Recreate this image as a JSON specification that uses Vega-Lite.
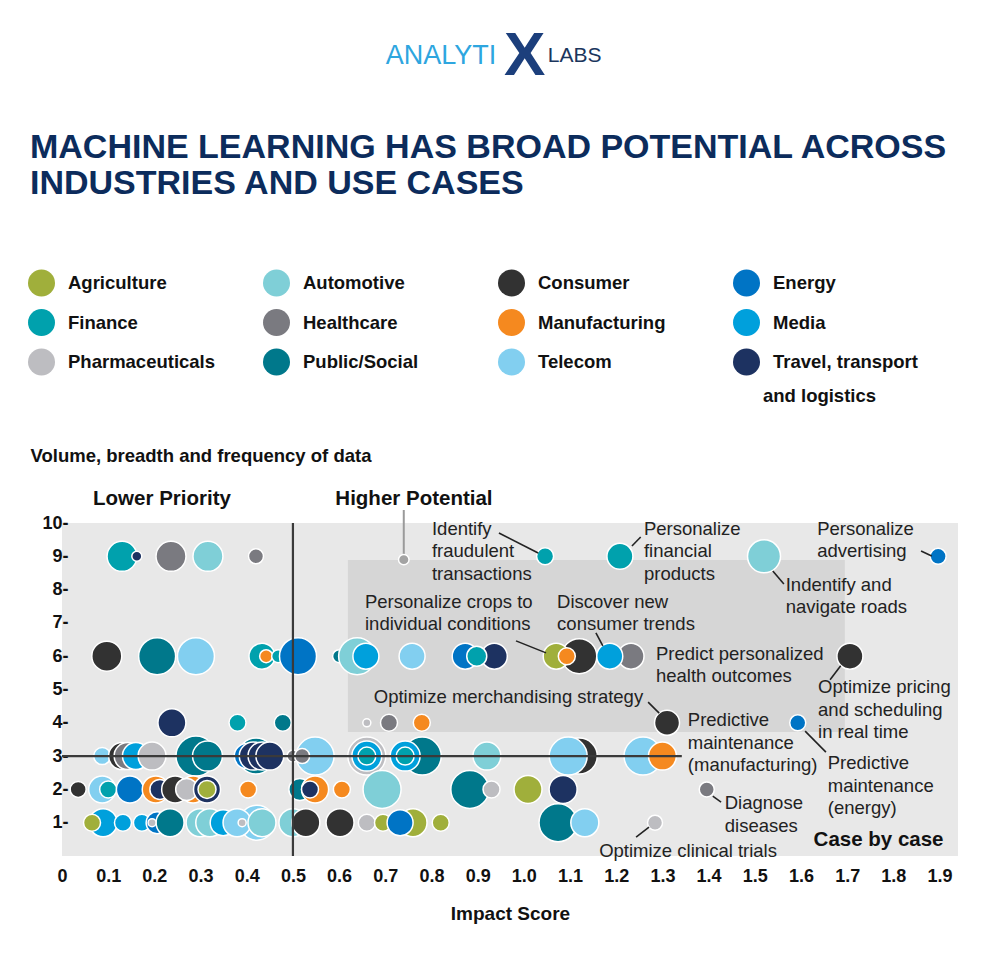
{
  "$schema": "https://vega.github.io/schema/vega-lite/v6.json",
  "width": 896,
  "height": 333,
  "autosize": {"type": "none"},
  "padding": {"left": 62, "top": 523, "right": 28, "bottom": 111},
  "background": "#ffffff",
  "config": {
    "view": {"stroke": null, "fill": "#e8e8e8"},
    "font": "Liberation Sans"
  },
  "datasets": {
    "bubbles": [
      {"c": "Finance", "x": 0.13, "y": 9, "size": 30},
      {"c": "Travel, transport and logistics", "x": 0.162, "y": 9, "size": 10},
      {"c": "Healthcare", "x": 0.236, "y": 9, "size": 30},
      {"c": "Automotive", "x": 0.316, "y": 9, "size": 30},
      {"c": "Healthcare", "x": 0.42, "y": 9, "size": 15},
      {"c": "Finance", "x": 1.046, "y": 9, "size": 17},
      {"c": "Finance", "x": 1.208, "y": 9, "size": 26},
      {"c": "Automotive", "x": 1.52, "y": 9, "size": 33},
      {"c": "Energy", "x": 1.897, "y": 9, "size": 16},

      {"c": "Consumer", "x": 0.097, "y": 6, "size": 30},
      {"c": "Public/Social", "x": 0.206, "y": 6, "size": 37},
      {"c": "Telecom", "x": 0.29, "y": 6, "size": 37},
      {"c": "Finance", "x": 0.433, "y": 6, "size": 26},
      {"c": "Manufacturing", "x": 0.442, "y": 6, "size": 13},
      {"c": "Finance", "x": 0.468, "y": 6, "size": 13},
      {"c": "Energy", "x": 0.511, "y": 6, "size": 37},
      {"c": "Public/Social", "x": 0.6, "y": 6, "size": 13},
      {"c": "Automotive", "x": 0.639, "y": 6, "size": 37},
      {"c": "Media", "x": 0.658, "y": 6, "size": 26},
      {"c": "Telecom", "x": 0.758, "y": 6, "size": 26},
      {"c": "Energy", "x": 0.873, "y": 6, "size": 26},
      {"c": "Travel, transport and logistics", "x": 0.936, "y": 6, "size": 26},
      {"c": "Finance", "x": 0.898, "y": 6, "size": 20},
      {"c": "Consumer", "x": 1.12, "y": 6, "size": 35},
      {"c": "Agriculture", "x": 1.07, "y": 6, "size": 26},
      {"c": "Manufacturing", "x": 1.093, "y": 6, "size": 17},
      {"c": "Healthcare", "x": 1.232, "y": 6, "size": 26},
      {"c": "Media", "x": 1.186, "y": 6, "size": 26},
      {"c": "Consumer", "x": 1.706, "y": 6, "size": 26},

      {"c": "Travel, transport and logistics", "x": 0.238, "y": 4, "size": 28},
      {"c": "Finance", "x": 0.38, "y": 4, "size": 17},
      {"c": "Public/Social", "x": 0.478, "y": 4, "size": 17},
      {"c": "Pharmaceuticals", "x": 0.66, "y": 4, "size": 8},
      {"c": "Healthcare", "x": 0.708, "y": 4, "size": 17},
      {"c": "Manufacturing", "x": 0.779, "y": 4, "size": 17},
      {"c": "Consumer", "x": 1.31, "y": 4, "size": 25},
      {"c": "Energy", "x": 1.593, "y": 4, "size": 16},

      {"c": "Telecom", "x": 0.087, "y": 3, "size": 17},
      {"c": "Consumer", "x": 0.13, "y": 3, "size": 27},
      {"c": "Healthcare", "x": 0.142, "y": 3, "size": 27},
      {"c": "Media", "x": 0.16, "y": 3, "size": 27},
      {"c": "Pharmaceuticals", "x": 0.195, "y": 3, "size": 28},
      {"c": "Public/Social", "x": 0.29, "y": 3, "size": 40},
      {"c": "Public/Social", "x": 0.315, "y": 3, "size": 30},
      {"c": "Public/Social", "x": 0.42, "y": 3, "size": 36},
      {"c": "Energy", "x": 0.4, "y": 3, "size": 25},
      {"c": "Travel, transport and logistics", "x": 0.414, "y": 3, "size": 28},
      {"c": "Travel, transport and logistics", "x": 0.433, "y": 3, "size": 28},
      {"c": "Travel, transport and logistics", "x": 0.45, "y": 3, "size": 28},
      {"c": "Healthcare", "x": 0.5, "y": 3, "size": 12},
      {"c": "Telecom", "x": 0.548, "y": 3, "size": 38},
      {"c": "Healthcare", "x": 0.52, "y": 3, "size": 15},
      {"c": "Pharmaceuticals", "x": 0.66, "y": 3, "size": 38},
      {"c": "Media", "x": 0.66, "y": 3, "size": 30},
      {"c": "Finance", "x": 0.66, "y": 3, "size": 18},
      {"c": "Pharmaceuticals", "x": 0.812, "y": 3, "size": 8},
      {"c": "Public/Social", "x": 0.78, "y": 3, "size": 38},
      {"c": "Media", "x": 0.743, "y": 3, "size": 30},
      {"c": "Finance", "x": 0.743, "y": 3, "size": 18},
      {"c": "Automotive", "x": 0.92, "y": 3, "size": 28},
      {"c": "Consumer", "x": 1.12, "y": 3, "size": 36},
      {"c": "Telecom", "x": 1.096, "y": 3, "size": 38},
      {"c": "Telecom", "x": 1.258, "y": 3, "size": 38},
      {"c": "Manufacturing", "x": 1.3, "y": 3, "size": 28},

      {"c": "Consumer", "x": 0.035, "y": 2, "size": 16},
      {"c": "Agriculture", "x": 0.065, "y": 2, "size": 7},
      {"c": "Telecom", "x": 0.087, "y": 2, "size": 27},
      {"c": "Finance", "x": 0.1, "y": 2, "size": 17},
      {"c": "Energy", "x": 0.147, "y": 2, "size": 27},
      {"c": "Manufacturing", "x": 0.203, "y": 2, "size": 27},
      {"c": "Travel, transport and logistics", "x": 0.212, "y": 2, "size": 20},
      {"c": "Consumer", "x": 0.245, "y": 2, "size": 27},
      {"c": "Manufacturing", "x": 0.284, "y": 2, "size": 27},
      {"c": "Pharmaceuticals", "x": 0.27, "y": 2, "size": 22},
      {"c": "Travel, transport and logistics", "x": 0.314, "y": 2, "size": 27},
      {"c": "Agriculture", "x": 0.314, "y": 2, "size": 18},
      {"c": "Manufacturing", "x": 0.403, "y": 2, "size": 17},
      {"c": "Public/Social", "x": 0.515, "y": 2, "size": 22},
      {"c": "Manufacturing", "x": 0.548, "y": 2, "size": 27},
      {"c": "Travel, transport and logistics", "x": 0.537, "y": 2, "size": 17},
      {"c": "Manufacturing", "x": 0.606, "y": 2, "size": 17},
      {"c": "Automotive", "x": 0.693, "y": 2, "size": 38},
      {"c": "Public/Social", "x": 0.883, "y": 2, "size": 38},
      {"c": "Pharmaceuticals", "x": 0.93, "y": 2, "size": 17},
      {"c": "Agriculture", "x": 1.009, "y": 2, "size": 28},
      {"c": "Travel, transport and logistics", "x": 1.085, "y": 2, "size": 28},
      {"c": "Healthcare", "x": 1.396, "y": 2, "size": 15},

      {"c": "Media", "x": 0.089, "y": 1, "size": 28},
      {"c": "Agriculture", "x": 0.065, "y": 1, "size": 17},
      {"c": "Media", "x": 0.132, "y": 1, "size": 17},
      {"c": "Media", "x": 0.173, "y": 1, "size": 17},
      {"c": "Energy", "x": 0.206, "y": 1, "size": 22},
      {"c": "Public/Social", "x": 0.234, "y": 1, "size": 28},
      {"c": "Pharmaceuticals", "x": 0.195, "y": 1, "size": 8},
      {"c": "Automotive", "x": 0.299, "y": 1, "size": 28},
      {"c": "Automotive", "x": 0.32, "y": 1, "size": 28},
      {"c": "Media", "x": 0.349, "y": 1, "size": 26},
      {"c": "Telecom", "x": 0.422, "y": 1, "size": 35},
      {"c": "Telecom", "x": 0.379, "y": 1, "size": 28},
      {"c": "Automotive", "x": 0.433, "y": 1, "size": 28},
      {"c": "Pharmaceuticals", "x": 0.39, "y": 1, "size": 8},
      {"c": "Automotive", "x": 0.5, "y": 1, "size": 28},
      {"c": "Consumer", "x": 0.528, "y": 1, "size": 28},
      {"c": "Consumer", "x": 0.602, "y": 1, "size": 28},
      {"c": "Pharmaceuticals", "x": 0.66, "y": 1, "size": 17},
      {"c": "Agriculture", "x": 0.695, "y": 1, "size": 17},
      {"c": "Agriculture", "x": 0.76, "y": 1, "size": 28},
      {"c": "Energy", "x": 0.732, "y": 1, "size": 26},
      {"c": "Agriculture", "x": 0.82, "y": 1, "size": 17},
      {"c": "Public/Social", "x": 1.074, "y": 1, "size": 38},
      {"c": "Telecom", "x": 1.132, "y": 1, "size": 28},
      {"c": "Pharmaceuticals", "x": 1.284, "y": 1, "size": 15}
    ],
    "notes": [
      {"x": 0.801, "y": 9.64, "t": "Identify\nfraudulent\ntransactions"},
      {"x": 1.26, "y": 9.64, "t": "Personalize\nfinancial\nproducts"},
      {"x": 1.635, "y": 9.64, "t": "Personalize\nadvertising"},
      {"x": 1.567, "y": 7.96, "t": "Indentify and\nnavigate roads"},
      {"x": 0.656, "y": 7.45, "t": "Personalize crops to\nindividual conditions"},
      {"x": 1.072, "y": 7.45, "t": "Discover new\nconsumer trends"},
      {"x": 1.286, "y": 5.89, "t": "Predict personalized\nhealth outcomes"},
      {"x": 1.637, "y": 4.89, "t": "Optimize pricing\nand scheduling\nin real time"},
      {"x": 0.675, "y": 4.59, "t": "Optimize merchandising strategy"},
      {"x": 1.355, "y": 3.9, "t": "Predictive\nmaintenance\n(manufacturing)"},
      {"x": 1.658, "y": 2.61, "t": "Predictive\nmaintenance\n(energy)"},
      {"x": 1.435, "y": 1.41, "t": "Diagnose\ndiseases"},
      {"x": 1.163, "y": -0.03, "t": "Optimize clinical trials"}
    ],
    "heads": [
      {"x": 0.2165, "y": 10.54, "t": "Lower Priority"},
      {"x": 0.762, "y": 10.54, "t": "Higher Potential"},
      {"x": 1.768, "y": 0.3, "t": "Case by case"}
    ],
    "leaders": [
      {"x": 0.946, "y": 9.7, "x2": 1.031, "y2": 9.1},
      {"x": 1.234, "y": 9.31, "x2": 1.253, "y2": 9.58},
      {"x": 1.86, "y": 9.16, "x2": 1.883, "y2": 9.01},
      {"x": 1.539, "y": 8.56, "x2": 1.563, "y2": 8.17},
      {"x": 0.983, "y": 6.46, "x2": 1.048, "y2": 6.1},
      {"x": 1.156, "y": 6.7, "x2": 1.171, "y2": 6.31},
      {"x": 1.663, "y": 5.29, "x2": 1.686, "y2": 5.71},
      {"x": 1.269, "y": 4.62, "x2": 1.293, "y2": 4.29},
      {"x": 1.609, "y": 3.75, "x2": 1.654, "y2": 3.12},
      {"x": 1.409, "y": 1.8, "x2": 1.427, "y2": 1.62},
      {"x": 1.243, "y": 0.57, "x2": 1.271, "y2": 0.87}
    ],
    "cross": [
      {"x": 0.5, "y": 0, "x2": 0.5, "y2": 10},
      {"x": 0, "y": 3, "x2": 1.342, "y2": 3}
    ]
  },
  "encoding": {
    "x": {
      "field": "x",
      "type": "quantitative",
      "scale": {"domain": [0, 1.94], "nice": false, "zero": false},
      "axis": {
        "values": [0, 0.1, 0.2, 0.3, 0.4, 0.5, 0.6, 0.7, 0.8, 0.9, 1.0, 1.1, 1.2, 1.3, 1.4, 1.5, 1.6, 1.7, 1.8, 1.9],
        "labelExpr": "datum.value == 0 ? '0' : format(datum.value, '.1f')",
        "labelFont": "Liberation Sans",
        "labelFontSize": 18,
        "labelFontWeight": "bold",
        "labelColor": "#111111",
        "labelFlush": false,
        "labelOverlap": false,
        "labelPadding": 11,
        "ticks": false,
        "tickSize": 0,
        "domain": false,
        "grid": false,
        "title": "Impact Score",
        "titleFont": "Liberation Sans",
        "titleFontSize": 19,
        "titleFontWeight": "bold",
        "titleColor": "#111111",
        "titleBaseline": "alphabetic",
        "titleY": 63
      }
    },
    "y": {
      "field": "y",
      "type": "quantitative",
      "scale": {"domain": [0, 10], "nice": false},
      "axis": {
        "values": [1, 2, 3, 4, 5, 6, 7, 8, 9, 10],
        "labelExpr": "datum.label + '-'",
        "labelFont": "Liberation Sans",
        "labelFontSize": 18,
        "labelFontWeight": "bold",
        "labelColor": "#111111",
        "labelFlush": false,
        "labelOverlap": false,
        "labelPadding": -6,
        "ticks": false,
        "tickSize": 0,
        "domain": false,
        "grid": false,
        "title": "Volume, breadth and frequency of data",
        "titleFont": "Liberation Sans",
        "titleFontSize": 18.5,
        "titleFontWeight": "bold",
        "titleColor": "#111111",
        "titleAngle": 0,
        "titleAlign": "left",
        "titleBaseline": "alphabetic",
        "titleX": -32,
        "titleY": -62
      }
    }
  },
  "layer": [
    {
      "data": {"values": [{"x": 0.619, "x2": 1.695, "y": 3.72, "y2": 8.89}]},
      "mark": {"type": "rect", "color": "#d6d6d6"},
      "encoding": {"x2": {"field": "x2"}, "y2": {"field": "y2"}}
    },
    {
      "data": {"name": "bubbles"},
      "mark": {"type": "point", "shape": "circle", "filled": true, "opacity": 1, "stroke": "#ffffff", "strokeWidth": 1.5},
      "encoding": {
        "color": {
          "field": "c",
          "type": "nominal",
          "scale": {
            "domain": ["Agriculture", "Automotive", "Consumer", "Energy", "Finance", "Healthcare", "Manufacturing", "Media", "Pharmaceuticals", "Public/Social", "Telecom", "Travel, transport and logistics"],
            "range": ["#a0af3b", "#7fcfd7", "#323232", "#0074c5", "#00a1ad", "#7a7a80", "#f5891f", "#00a0dc", "#bdbdc1", "#00788b", "#82cff0", "#1d3261"]
          },
          "legend": {
            "orient": "none",
            "direction": "horizontal",
            "legendX": -34,
            "legendY": -253.5,
            "columns": 4,
            "gridAlign": "all",
            "columnPadding": 47,
            "rowPadding": 12.5,
            "padding": 0,
            "title": null,
            "symbolType": "circle",
            "symbolSize": 729,
            "symbolStrokeWidth": 0,
            "symbolOpacity": 1,
            "labelFont": "Liberation Sans",
            "labelFontSize": 18.5,
            "labelFontWeight": "bold",
            "labelColor": "#111111",
            "labelOffset": 13,
            "labelLimit": 250,
            "labelExpr": "datum.label == 'Travel, transport and logistics' ? 'Travel, transport' : datum.label"
          }
        },
        "size": {
          "field": "size",
          "type": "quantitative",
          "scale": {"type": "pow", "exponent": 2, "domain": [0, 40], "range": [0, 1600]},
          "legend": null
        }
      }
    },
    {
      "data": {"name": "cross"},
      "mark": {"type": "rule", "color": "#3a3a3a", "strokeWidth": 2.2},
      "encoding": {"x2": {"field": "x2"}, "y2": {"field": "y2"}}
    },
    {
      "data": {"values": [{"x": 0.74, "y": 10.39, "x2": 0.74, "y2": 8.98}]},
      "mark": {"type": "rule", "color": "#9a9a9a", "strokeWidth": 2},
      "encoding": {"x2": {"field": "x2"}, "y2": {"field": "y2"}}
    },
    {
      "data": {"values": [{"x": 0.74, "y": 8.9}]},
      "mark": {"type": "point", "shape": "circle", "filled": true, "opacity": 1, "color": "#a3a3a3", "stroke": "#ffffff", "strokeWidth": 1.5, "size": 110},
      "encoding": {}
    },
    {
      "data": {"name": "leaders"},
      "mark": {"type": "rule", "color": "#222222", "strokeWidth": 1.6},
      "encoding": {"x2": {"field": "x2"}, "y2": {"field": "y2"}}
    },
    {
      "data": {"name": "notes"},
      "mark": {"type": "text", "align": "left", "baseline": "alphabetic", "font": "Liberation Sans", "fontSize": 18.5, "color": "#222222", "lineBreak": "\n", "lineHeight": 22.5},
      "encoding": {"text": {"field": "t"}}
    },
    {
      "data": {"name": "heads"},
      "mark": {"type": "text", "align": "center", "baseline": "alphabetic", "font": "Liberation Sans", "fontSize": 20.5, "fontWeight": "bold", "color": "#111111"},
      "encoding": {"text": {"field": "t"}}
    },
    {
      "data": {"values": [{"x": -0.0693, "y": 20.96, "t": "MACHINE LEARNING HAS BROAD POTENTIAL ACROSS\nINDUSTRIES AND USE CASES"}]},
      "mark": {"type": "text", "align": "left", "baseline": "alphabetic", "font": "Liberation Sans", "fontSize": 34, "fontWeight": "bold", "color": "#0c2c5c", "lineBreak": "\n", "lineHeight": 36},
      "encoding": {"text": {"field": "t"}}
    },
    {
      "data": {"values": [{"x": 0.8205, "y": 24.02, "t": "ANALYTI"}]},
      "mark": {"type": "text", "align": "center", "baseline": "middle", "font": "Liberation Sans", "fontSize": 27, "color": "#2ea6df"},
      "encoding": {"text": {"field": "t"}}
    },
    {
      "data": {"values": [{"x": 1.002, "y": 24.02, "t": "X"}]},
      "mark": {"type": "text", "align": "center", "baseline": "middle", "font": "Liberation Sans", "fontSize": 62, "fontWeight": "bold", "color": "#1c3f7c"},
      "encoding": {"text": {"field": "t"}}
    },
    {
      "data": {"values": [{"x": 1.052, "y": 24.02, "t": "LABS"}]},
      "mark": {"type": "text", "align": "left", "baseline": "middle", "font": "Liberation Sans", "fontSize": 21, "color": "#1b365d"},
      "encoding": {"text": {"field": "t"}}
    },
    {
      "data": {"values": [{"x": 1.5177, "y": 13.64, "t": "and logistics"}]},
      "mark": {"type": "text", "align": "left", "baseline": "alphabetic", "font": "Liberation Sans", "fontSize": 18.5, "fontWeight": "bold", "color": "#111111"},
      "encoding": {"text": {"field": "t"}}
    }
  ]
}
